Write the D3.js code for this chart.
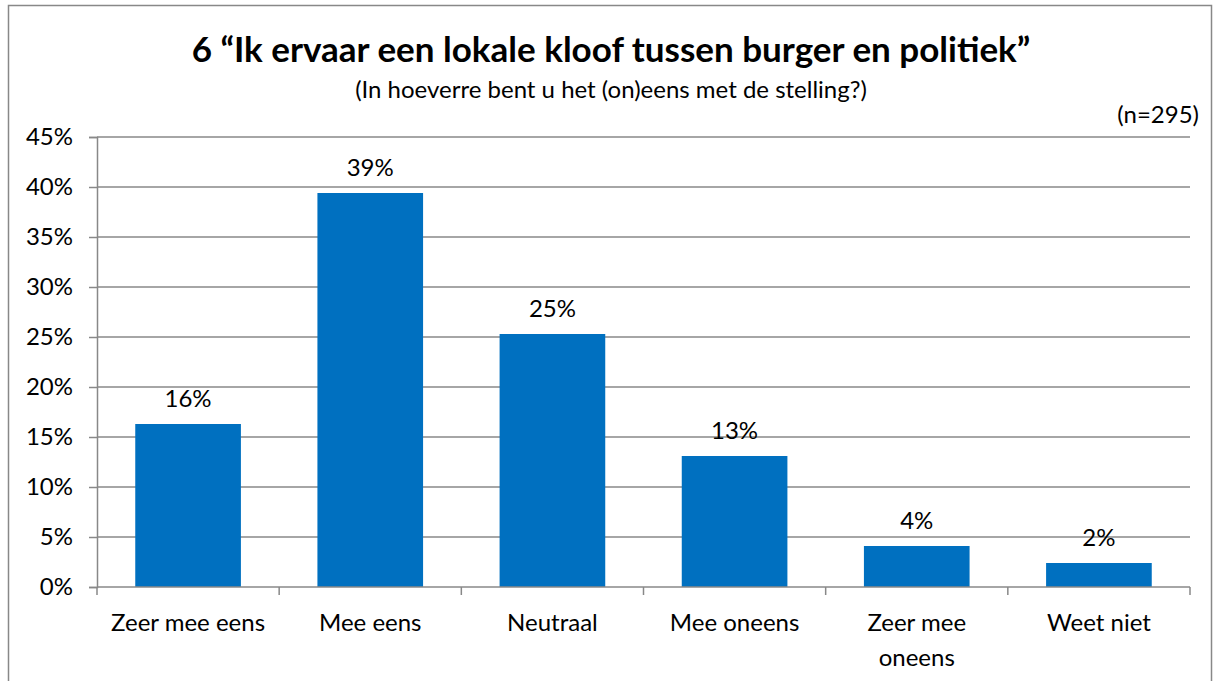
<!DOCTYPE html>
<html><head><meta charset="utf-8">
<script src="https://cdn.jsdelivr.net/npm/d3@7"></script>
<style>body{margin:0;background:#fff;} svg{display:block;font-family:Lato,"Open Sans",sans-serif;}</style>
</head><body>
<svg id="c" width="1214" height="681"></svg>
<script>
const categories = ["Zeer mee eens","Mee eens","Neutraal","Mee oneens","Zeer mee oneens","Weet niet"];
const values = [16.3, 39.4, 25.3, 13.1, 4.1, 2.4];
const yTicks = [0,5,10,15,20,25,30,35,40,45];
const title = "6 “Ik ervaar een lokale kloof tussen burger en politiek”";
const subtitle = "(In hoeverre bent u het (on)eens met de stelling?)";
const nLabel = "(n=295)";

const FS = 24;
const svg = d3.select("#c");
svg.append("rect").attr("x",8.5).attr("y",5.5).attr("width",1203).attr("height",690)
  .attr("fill","#fff").attr("stroke","#888").attr("stroke-width",1.5);

const m = {l:97, r:1190, t:137, b:587};
const x = d3.scaleBand().domain(categories).range([m.l,m.r]).paddingInner(0.42).paddingOuter(0.21);
const y = d3.scaleLinear().domain([0,45]).range([m.b,m.t]);

// gridlines
svg.append("g").selectAll("line").data(yTicks.filter(d=>d>0)).join("line")
  .attr("x1",m.l).attr("x2",m.r).attr("y1",d=>y(d)).attr("y2",d=>y(d))
  .attr("stroke","#888").attr("stroke-width",1.5);

// y axis
const ya = svg.append("g").attr("transform",`translate(${m.l},0)`)
  .call(d3.axisLeft(y).tickValues(yTicks).tickFormat(d=>d+"%").tickSize(8).tickPadding(16));
ya.select(".domain").attr("stroke","#888").attr("stroke-width",1.5);
ya.selectAll(".tick line").attr("stroke","#888").attr("stroke-width",1.5);
ya.selectAll(".tick text").attr("font-size",FS).attr("fill","#000").attr("font-family","Lato");

// bars
svg.append("g").selectAll("rect").data(values).join("rect")
  .attr("x",(d,i)=>x(categories[i])).attr("width",x.bandwidth())
  .attr("y",d=>y(d)).attr("height",d=>y(0)-y(d)).attr("fill","#0070C0");

// x axis
const step = (m.r-m.l)/categories.length;
const xa = svg.append("g").attr("transform",`translate(0,${m.b})`);
xa.append("line").attr("x1",m.l).attr("x2",m.r).attr("stroke","#888").attr("stroke-width",1.5);
xa.selectAll("line.t").data(d3.range(categories.length+1)).join("line").attr("class","t")
  .attr("x1",i=>m.l+i*step).attr("x2",i=>m.l+i*step).attr("y1",0).attr("y2",8)
  .attr("stroke","#888").attr("stroke-width",1.5);
const lines = {"Zeer mee oneens":["Zeer mee","oneens"]};
categories.forEach(c=>{
  const t = xa.append("text").attr("x",x(c)+x.bandwidth()/2).attr("y",43.5)
    .attr("text-anchor","middle").attr("font-size",FS).attr("fill","#000");
  (lines[c]||[c]).forEach((s,j)=>t.append("tspan").attr("x",x(c)+x.bandwidth()/2).attr("dy",j?35:0).text(s));
});

// value labels
svg.append("g").selectAll("text").data(values).join("text")
  .attr("x",(d,i)=>x(categories[i])+x.bandwidth()/2).attr("y",d=>y(d)-17.5)
  .attr("text-anchor","middle").attr("font-size",FS).attr("fill","#000")
  .text(d=>Math.round(d)+"%");

svg.append("text").attr("x",611).attr("y",62).attr("text-anchor","middle")
  .attr("font-size",35).attr("font-weight","bold").text(title);
svg.append("text").attr("x",611).attr("y",98).attr("text-anchor","middle")
  .attr("font-size",FS).text(subtitle);
svg.append("text").attr("x",1199).attr("y",123).attr("text-anchor","end")
  .attr("font-size",FS).text(nLabel);
</script>
</body></html>
